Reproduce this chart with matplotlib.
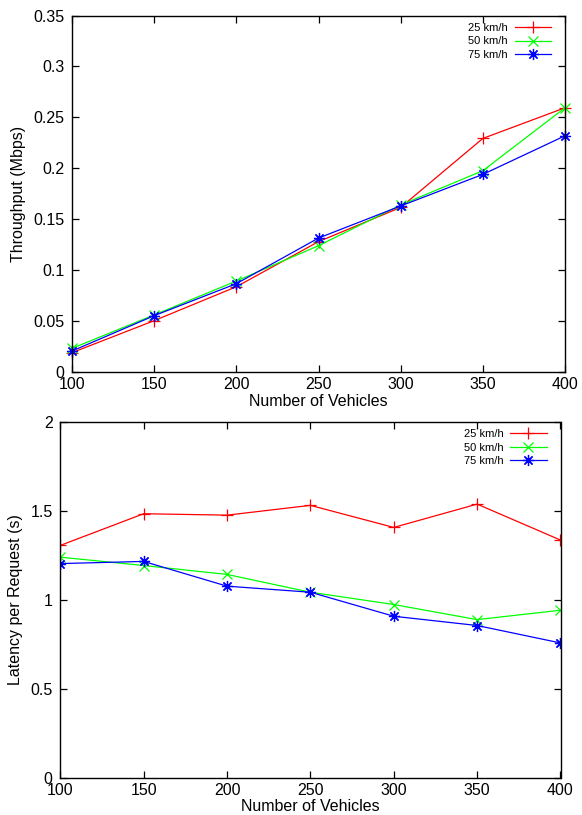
import matplotlib
matplotlib.use("Agg")
import matplotlib.pyplot as plt

plt.rcParams['font.family'] = ['Liberation Sans', 'DejaVu Sans']

vehicles = [100, 150, 200, 250, 300, 350, 400]
labels = ["25 km/h", "50 km/h", "75 km/h"]

thr_25 = [0.019, 0.0504, 0.0837, 0.128, 0.1616, 0.2293, 0.2594]
thr_50 = [0.0232, 0.0560, 0.0893, 0.124, 0.1640, 0.1976, 0.2594]
thr_75 = [0.0206, 0.0553, 0.0867, 0.1315, 0.1630, 0.1940, 0.2319]

lat_25 = [1.305, 1.483, 1.475, 1.530, 1.406, 1.537, 1.335]
lat_50 = [1.239, 1.192, 1.142, 1.042, 0.973, 0.888, 0.941]
lat_75 = [1.203, 1.215, 1.076, 1.042, 0.907, 0.855, 0.757]

thr_yticks = [0, 0.05, 0.1, 0.15, 0.2, 0.25, 0.3, 0.35]
thr_yticklabels = ["0", "0.05", "0.1", "0.15", "0.2", "0.25", "0.3", "0.35"]
lat_yticks = [0, 0.5, 1, 1.5, 2]
lat_yticklabels = ["0", "0.5", "1", "1.5", "2"]

colors = ["#ff0000", "#00ff00", "#0000ff"]
markers = ["+", "x", (8, 2, 0)]
msizes = [8.5, 7, 8]

fig = plt.figure(figsize=(5.82, 8.15), dpi=100)
W, H = 582, 815

def make_ax(l, r, t, b):
    return fig.add_axes([l / W, 1 - b / H, (r - l) / W, (b - t) / H])

ax1 = make_ax(72, 565, 15.5, 372)
ax2 = make_ax(60.3, 560.5, 421.7, 777.7)

def style(ax, series, yticks, yticklabels, ylim, ylabel, ylab_x, clip):
    for s, c, m, ms, lab in zip(series, colors, markers, msizes, labels):
        ax.plot(vehicles, s, color=c, marker=m, markersize=ms, linewidth=0.9,
                markeredgewidth=0.9, label=lab, clip_on=clip)
    ax.set_xlim(100, 400)
    ax.set_ylim(*ylim)
    ax.set_xticks(vehicles)
    ax.set_xticklabels([str(v) for v in vehicles], fontsize=11.5)
    ax.set_yticks(yticks)
    ax.set_yticklabels(yticklabels, fontsize=11.5)
    ax.tick_params(axis='both', direction='in', length=5, width=0.9,
                   top=True, right=True)
    ax.tick_params(axis='x', pad=3.5)
    ax.tick_params(axis='y', pad=5.5)
    for sp in ax.spines.values():
        sp.set_linewidth(1.0)
        sp.set_color('black')
    ax.set_xlabel("Number of Vehicles", fontsize=11.5)
    ax.xaxis.set_label_coords(0.5, -0.061)
    ax.set_ylabel(ylabel, fontsize=11.5)
    ax.yaxis.set_label_coords(ylab_x, 0.5)
    ax.legend(loc='upper right', bbox_to_anchor=(0.977, 0.985), frameon=False,
              markerfirst=False, fontsize=8, handlelength=3.3,
              handletextpad=0.6, labelspacing=0.3, borderaxespad=0,
              borderpad=0.2)

style(ax1, [thr_25, thr_50, thr_75], thr_yticks, thr_yticklabels, (0, 0.35),
      "Throughput (Mbps)", -0.093, False)
style(ax2, [lat_25, lat_50, lat_75], lat_yticks, lat_yticklabels, (0, 2),
      "Latency per Request (s)", -0.075, True)

fig.savefig("out.png", dpi=100)
